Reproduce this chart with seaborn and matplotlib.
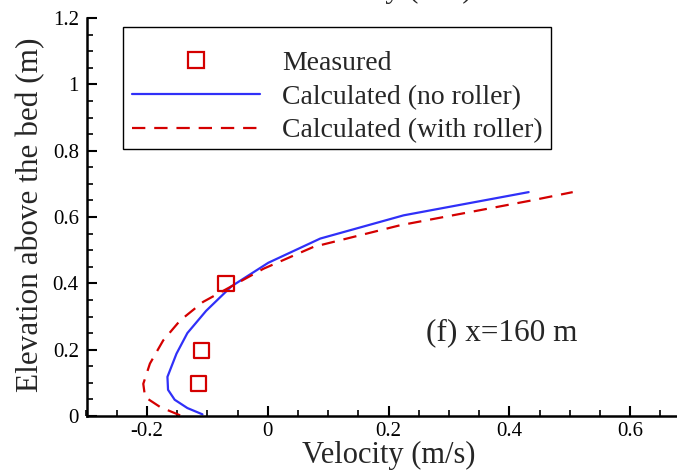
import numpy as np
import pandas as pd
import matplotlib
matplotlib.use("Agg")
import matplotlib.pyplot as plt
from matplotlib.lines import Line2D
from matplotlib.patches import Rectangle
from matplotlib.ticker import MultipleLocator
import seaborn as sns

# ---- data ----
meas_x = [-0.069, -0.109, -0.114]
meas_y = [0.399, 0.198, 0.097]

noroll_x = [-0.108, -0.133, -0.154, -0.165, -0.166, -0.151, -0.133, -0.102, -0.060, 0.001, 0.087, 0.225, 0.432]
noroll_y = [0.005, 0.024, 0.049, 0.079, 0.118, 0.188, 0.250, 0.317, 0.391, 0.462, 0.535, 0.605, 0.675]

roll_x = [-0.145, -0.178, -0.203, -0.206, -0.195, -0.173, -0.145, -0.107, -0.057, -0.007, 0.076, 0.219, 0.437, 0.505]
roll_y = [0.002, 0.027, 0.057, 0.097, 0.158, 0.228, 0.288, 0.344, 0.394, 0.444, 0.510, 0.575, 0.650, 0.675]

labels = ["Measured", "Calculated (no roller)", "Calculated (with roller)"]
xticks = [-0.2, 0, 0.2, 0.4, 0.6]
xticklabels = ["-0.2", "0", "0.2", "0.4", "0.6"]
yticks = [0, 0.2, 0.4, 0.6, 0.8, 1, 1.2]
yticklabels = ["0", "0.2", "0.4", "0.6", "0.8", "1", "1.2"]

RED = "#d40000"
BLUE = "#3030f8"

sns.set_style("ticks")
plt.rcParams["font.family"] = ["Liberation Serif", "DejaVu Serif"]
plt.rcParams["axes.unicode_minus"] = False

W, H = 677, 474
fig = plt.figure(figsize=(W / 100, H / 100), dpi=100)
AX_L, AX_B, AX_T = 86.5, 416, 18
ax = fig.add_axes([AX_L / W, (H - AX_B) / H, (W - AX_L) / W, (AX_B - AX_T) / H])

df_nr = pd.DataFrame({"x": noroll_x, "y": noroll_y})
df_r = pd.DataFrame({"x": roll_x, "y": roll_y})
df_m = pd.DataFrame({"x": meas_x, "y": meas_y})

sns.lineplot(data=df_nr, x="x", y="y", sort=False, estimator=None, ax=ax,
             color=BLUE, linewidth=1.6)
sns.lineplot(data=df_r, x="x", y="y", sort=False, estimator=None, ax=ax,
             color=RED, linewidth=1.6, linestyle=(0, (6, 4)))
sns.scatterplot(data=df_m, x="x", y="y", ax=ax, marker="s", s=120,
                facecolor="none", edgecolor=RED, linewidth=1.6, zorder=5)

ax.set_xlim(-0.3, (W - 267.7) / 604)
ax.set_ylim(0, 1.2)
ax.set_xticks(xticks)
ax.set_xticklabels(xticklabels)
ax.set_yticks(yticks)
ax.set_yticklabels(yticklabels)
ax.xaxis.set_minor_locator(MultipleLocator(0.05))
ax.yaxis.set_minor_locator(MultipleLocator(0.05))
ax.tick_params(which="major", direction="in", length=7.5, width=1.5,
               labelsize=15, color="black", labelcolor="black")
ax.tick_params(which="minor", direction="in", length=4.2, width=1.2, color="black")
ax.tick_params(axis="x", which="major", pad=4.5)
ax.tick_params(axis="y", which="major", pad=5.5)

for s in ["top", "right"]:
    ax.spines[s].set_visible(False)
for s in ["left", "bottom"]:
    ax.spines[s].set_linewidth(1.8)
    ax.spines[s].set_color("black")

axw = W - AX_L
axh = AX_B - AX_T
ax.set_xlabel("Velocity (m/s)", fontsize=22)
ax.xaxis.label.set_va("baseline")
ax.xaxis.set_label_coords((388.5 - AX_L) / axw, (AX_B - 463) / axh)
ax.set_ylabel("Elevation above the bed (m)", fontsize=22.5,
              rotation_mode="anchor")
ax.yaxis.label.set_va("baseline")
ax.yaxis.label.set_ha("center")
ax.yaxis.set_label_coords((38 - AX_L) / axw, (AX_B - 214.5) / axh)

ax.text(0.262, 0.25, "(f) x=160 m", fontsize=22.5, ha="left", va="center")

# cut-off label of the panel above
fig.text((385.5) / W, 1 + 2.5 / H, "Velocity (m/s)", fontsize=22,
         ha="center", va="baseline")

# legend
handles = [
    Line2D([], [], color=RED, marker="s", markersize=11, markerfacecolor="none",
           markeredgewidth=1.6, linestyle="none"),
    Line2D([], [], color=BLUE, linewidth=1.6),
    Line2D([], [], color=RED, linewidth=1.6, linestyle=(0, (6, 4))),
]
leg = fig.legend(handles, labels, loc="center left",
                 bbox_to_anchor=(123 / W, 1 - 97 / H),
                 frameon=False, fontsize=20, handlelength=4.6,
                 handletextpad=0.8, labelspacing=0.3, borderpad=0.33,
                 borderaxespad=0)
fig.patches.append(Rectangle((123 / W, 1 - 149 / H), (551 - 123) / W, (149 - 27) / H,
                             transform=fig.transFigure, fill=False,
                             edgecolor="black", linewidth=1.0))

fig.savefig("out.png", dpi=100)
